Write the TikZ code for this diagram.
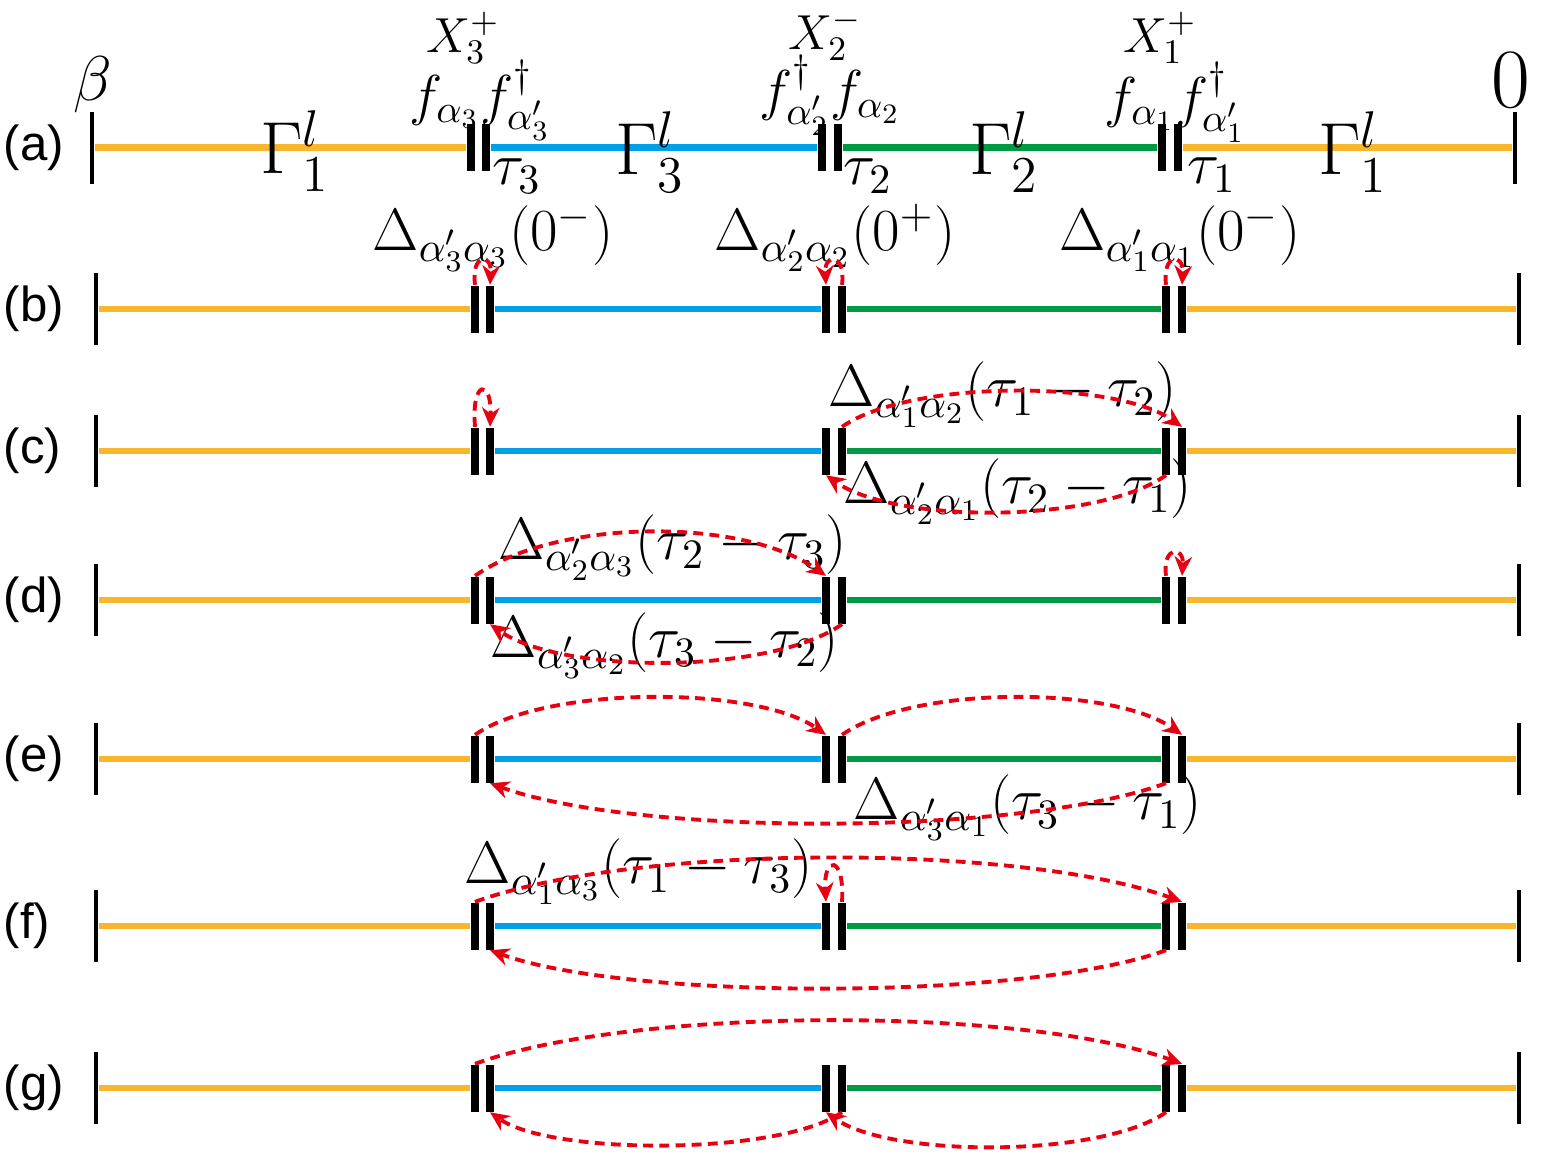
\RequirePackage{fix-cm}
\documentclass[tikz,border=0pt]{standalone}
\usepackage{fontspec}
\newfontfamily\labfont{Liberation Sans}
\usetikzlibrary{arrows.meta}
\definecolor{segorange}{RGB}{248,182,45}
\definecolor{segblue}{RGB}{0,160,233}
\definecolor{seggreen}{RGB}{0,153,68}
\definecolor{hopred}{RGB}{230,0,18}

\begin{document}
\begin{tikzpicture}[
  tick/.style={fill=black,inner sep=0,minimum width=0.04cm,minimum height=0.72cm},
  bar/.style={fill=black,inner sep=0,minimum width=0.08cm,minimum height=0.47cm},
  seg/.style={line width=0.065cm},
  hop/.style={hopred,line width=1.1pt,dash pattern=on 2.8pt off 1.8pt,-{Stealth[length=5.5pt,width=5pt]}},
  rowlab/.style={inner sep=0,anchor=west,font=\labfont\fontsize{14}{16}\selectfont},
  glab/.style={inner sep=0,font=\fontsize{21}{24}\selectfont},
  xlab/.style={inner sep=0,font=\fontsize{14}{16}\selectfont},
  flab/.style={inner sep=0,font=\fontsize{16}{19}\selectfont},
  tlab/.style={inner sep=0,font=\fontsize{17}{20}\selectfont},
  dlab/.style={inner sep=0,font=\fontsize{17}{20}\selectfont}]
\useasboundingbox (0,0) rectangle (15.45,-11.59);

\foreach \r/\y/\dx in {a/-1.475/-0.04,b/-3.09/0,c/-4.51/0,d/-6.00/0,e/-7.59/0,f/-9.26/0,g/-10.88/0}{
  \node[rowlab] (lab\r) at (0.03,\y) {(\r)};
  \begin{scope}[xshift=\dx cm]
  \node[tick] (\r0) at (0.96,\y) {};
  \node[tick] (\r4) at (15.19,\y) {};
  \node[bar] (\r1L) at (4.75,\y) {};
  \node[bar] (\r1R) at (4.90,\y) {};
  \node[bar] (\r2L) at (8.26,\y) {};
  \node[bar] (\r2R) at (8.42,\y) {};
  \node[bar] (\r3L) at (11.66,\y) {};
  \node[bar] (\r3R) at (11.82,\y) {};
  \draw[seg,segorange] (\r0) -- (\r1L);
  \draw[seg,segblue] (\r1R) -- (\r2L);
  \draw[seg,seggreen] (\r2R) -- (\r3L);
  \draw[seg,segorange] (\r3R) -- (\r4);
  \end{scope}
}

\node[inner sep=0,font=\fontsize{18}{21}\selectfont] (beta) at (0.93,-0.845) {$\beta$};
\node[inner sep=0,font=\fontsize{24}{28}\selectfont] (zero) at (15.11,-0.80) {$0$};
\node[glab] (G1) at (2.95,-1.51) {$\Gamma^l_1$};
\node[glab] (G3) at (6.50,-1.52) {$\Gamma^l_3$};
\node[glab] (G2) at (10.04,-1.52) {$\Gamma^l_2$};
\node[glab] (G1b) at (13.53,-1.52) {$\Gamma^l_1$};
\node[xlab] (X3) at (4.63,-0.38) {$X_3^+$};
\node[xlab] (X2) at (8.25,-0.35) {$X_2^-$};
\node[xlab] (X1) at (11.60,-0.38) {$X_1^+$};
\node[flab] (f3) at (4.80,-1.00) {$f_{\alpha_3}f^{\dagger}_{\alpha'_3}$};
\node[flab] (f2) at (8.30,-0.95) {$f^{\dagger}_{\alpha'_2}f_{\alpha_2}$};
\node[flab] (f1) at (11.75,-1.02) {$f_{\alpha_1}f^{\dagger}_{\alpha'_1}$};
\node[tlab] (t3) at (5.17,-1.76) {$\tau_3$};
\node[tlab] (t2) at (8.68,-1.76) {$\tau_2$};
\node[tlab] (t1) at (12.12,-1.75) {$\tau_1$};

\node[dlab] (D33) at (4.93,-2.38) {$\Delta_{\alpha'_3\alpha_3}(0^-)$};
\node[dlab] (D22) at (8.35,-2.38) {$\Delta_{\alpha'_2\alpha_2}(0^+)$};
\node[dlab] (D11) at (11.80,-2.38) {$\Delta_{\alpha'_1\alpha_1}(0^-)$};
\draw[hop] (b1L.north) .. controls +(-0.04,0.32) and +(0.02,0.32) .. (b1R.north);
\draw[hop] (b2R.north) .. controls +(0.04,0.32) and +(-0.02,0.32) .. (b2L.north);
\draw[hop] (b3L.north) .. controls +(-0.04,0.32) and +(0.02,0.32) .. (b3R.north);

\node[dlab] (D12) at (10.03,-3.95) {$\Delta_{\alpha'_1\alpha_2}(\tau_1-\tau_2)$};
\node[dlab] (D21) at (10.18,-4.92) {$\Delta_{\alpha'_2\alpha_1}(\tau_2-\tau_1)$};
\draw[hop] (c1L.north) .. controls +(-0.04,0.48) and +(0.02,0.48) .. (c1R.north);
\draw[hop] (c2R.north) to[out=35,in=145,looseness=0.62] (c3R.north);
\draw[hop] (c3L.south) to[out=-145,in=-35,looseness=0.64] (c2L.south);

\node[dlab] (D23) at (6.73,-5.48) {$\Delta_{\alpha'_2\alpha_3}(\tau_2-\tau_3)$};
\node[dlab] (D32) at (6.65,-6.46) {$\Delta_{\alpha'_3\alpha_2}(\tau_3-\tau_2)$};
\draw[hop] (d1L.north) to[out=35,in=145,looseness=0.74] (d2L.north);
\draw[hop] (d2R.south) to[out=-145,in=-35,looseness=0.64] (d1R.south);
\draw[hop] (d3L.north) .. controls +(-0.04,0.3) and +(0.02,0.3) .. (d3R.north);

\node[dlab] (D31) at (10.28,-8.08) {$\Delta_{\alpha'_3\alpha_1}(\tau_3-\tau_1)$};
\draw[hop] (e1L.north) to[out=35,in=145,looseness=0.63] (e2L.north);
\draw[hop] (e2R.north) to[out=35,in=145,looseness=0.65] (e3R.north);
\draw[hop] (e3L.south) to[out=-160,in=-20,looseness=0.59] (e1R.south);

\node[dlab] (D13) at (6.39,-8.72) {$\Delta_{\alpha'_1\alpha_3}(\tau_1-\tau_3)$};
\draw[hop] (f1L.north) to[out=20,in=160,looseness=0.62] (f3R.north);
\draw[hop] (f2R.north) .. controls +(0.03,0.47) and +(-0.03,0.47) .. (f2L.north);
\draw[hop] (f3L.south) to[out=-160,in=-20,looseness=0.56] (f1R.south);

\draw[hop] (g1L.north) to[out=20,in=160,looseness=0.61] (g3R.north);
\draw[hop] (g2R.south) to[out=-145,in=-35,looseness=0.55] (g1R.south);
\draw[hop] (g3L.south) to[out=-145,in=-35,looseness=0.6] (g2L.south);
\end{tikzpicture}
\end{document}
